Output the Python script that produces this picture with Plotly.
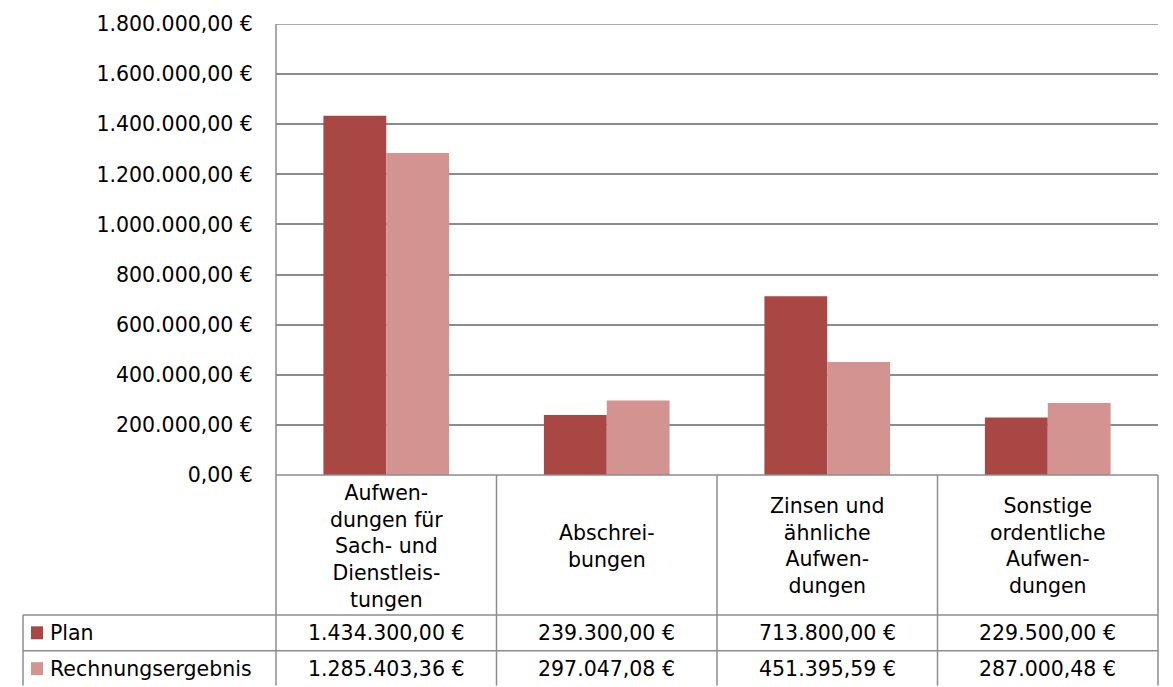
import plotly.graph_objects as go

categories = ["Aufwen-<br>dungen für<br>Sach- und<br>Dienstleis-<br>tungen",
              "Abschrei-<br>bungen",
              "Zinsen und<br>ähnliche<br>Aufwen-<br>dungen",
              "Sonstige<br>ordentliche<br>Aufwen-<br>dungen"]
plan = [1434300.00, 239300.00, 713800.00, 229500.00]
ergebnis = [1285403.36, 297047.08, 451395.59, 287000.48]
series_names = ["Plan", "Rechnungsergebnis"]
series_colors = ["#A94744", "#D39391"]
tick_values = [0, 200000, 400000, 600000, 800000, 1000000, 1200000, 1400000, 1600000, 1800000]


def fmt_eur(v):
    s = f"{v:,.2f}"
    s = s.replace(",", "X").replace(".", ",").replace("X", ".")
    return s + " €"


W, H = 1173, 687
ML, MR, MT, MB = 276, 15, 22, 212
plot_h = H - MT - MB
plot_w = W - ML - MR
FONT = "DejaVu Sans, Liberation Sans, Arial, sans-serif"
FS = 20.5
GRID = "#8c8c8c"
LW = 1.5


def py2paper(py):
    return (H - MB - py) / plot_h


def px2paper(px):
    return (px - ML) / plot_w


x_idx = list(range(len(categories)))
n = len(categories)

fig = go.Figure()
for name, vals, col in zip(series_names, [plan, ergebnis], series_colors):
    fig.add_trace(go.Bar(x=x_idx, y=vals, name=name, marker=dict(color=col, line=dict(width=0)),
                         hoverinfo="skip"))

shapes = []
annotations = []
y_plan_top = py2paper(615.5)
y_erg_top = py2paper(651.5)
y_bottom = py2paper(H - 0.5)

# top gridline (1.800.000 €)
shapes.append(dict(type="line", xref="paper", yref="y", x0=0, x1=1, y0=tick_values[-1], y1=tick_values[-1],
                   line=dict(color=GRID, width=LW), layer="below"))
# category column boundaries (x axis spans n categories evenly over the paper width)
for i in range(n + 1):
    xb = i / n
    y0 = 1 if i == 0 else 0
    shapes.append(dict(type="line", xref="paper", yref="paper", x0=xb, x1=xb, y0=y0, y1=y_bottom,
                       line=dict(color=GRID, width=LW)))
left_paper = px2paper(23)
shapes.append(dict(type="line", xref="paper", yref="paper", x0=0, x1=1, y0=0, y1=0,
                   line=dict(color=GRID, width=LW)))
for yy in [y_plan_top, y_erg_top]:
    shapes.append(dict(type="line", xref="paper", yref="paper", x0=left_paper, x1=1, y0=yy, y1=yy,
                       line=dict(color=GRID, width=LW)))
shapes.append(dict(type="line", xref="paper", yref="paper", x0=left_paper, x1=left_paper,
                   y0=y_plan_top, y1=y_bottom, line=dict(color=GRID, width=LW)))

for i, c in enumerate(categories):
    annotations.append(dict(x=i, y=py2paper(546.5), xref="x", yref="paper", text=c, showarrow=False,
                            font=dict(family=FONT, size=FS, color="black"), align="center",
                            xanchor="center", yanchor="middle"))

row_centers = [py2paper(633.5), py2paper(669.5)]
for name, vals, col, yc in zip(series_names, [plan, ergebnis], series_colors, row_centers):
    shapes.append(dict(type="rect", xref="paper", yref="paper", x0=px2paper(31), x1=px2paper(43),
                       y0=yc - 6.5 / plot_h, y1=yc + 6.5 / plot_h, fillcolor=col, line=dict(width=0)))
    annotations.append(dict(x=px2paper(48), y=yc, xref="paper", yref="paper", text=name,
                            showarrow=False, xanchor="left", yanchor="middle",
                            font=dict(family=FONT, size=FS, color="black")))
    for i, v in enumerate(vals):
        annotations.append(dict(x=i, y=yc, xref="x", yref="paper", text=fmt_eur(v), showarrow=False,
                                xanchor="center", yanchor="middle",
                                font=dict(family=FONT, size=FS, color="black")))

fig.update_layout(
    width=W, height=H,
    margin=dict(l=ML, r=MR, t=MT, b=MB, pad=0),
    paper_bgcolor="white", plot_bgcolor="white",
    barmode="group", bargap=0.43, bargroupgap=0,
    showlegend=False, hovermode=False,
    font=dict(family=FONT, size=FS, color="black"),
    xaxis=dict(range=[-0.5, n - 0.5], showticklabels=False, showgrid=False, zeroline=False,
               showline=False, ticks=""),
    yaxis=dict(range=[0, 1800000], tickvals=tick_values, ticktext=[fmt_eur(v) for v in tick_values],
               showgrid=True, gridcolor=GRID, gridwidth=LW, zeroline=False, showline=False,
               ticks="outside", ticklen=18, tickcolor="rgba(0,0,0,0)",
               tickfont=dict(family=FONT, size=FS, color="black")),
    shapes=shapes, annotations=annotations,
)

fig.write_html("out.html", config={"displayModeBar": False},
               post_script="document.body.style.margin='0';document.body.style.overflow='hidden';")
